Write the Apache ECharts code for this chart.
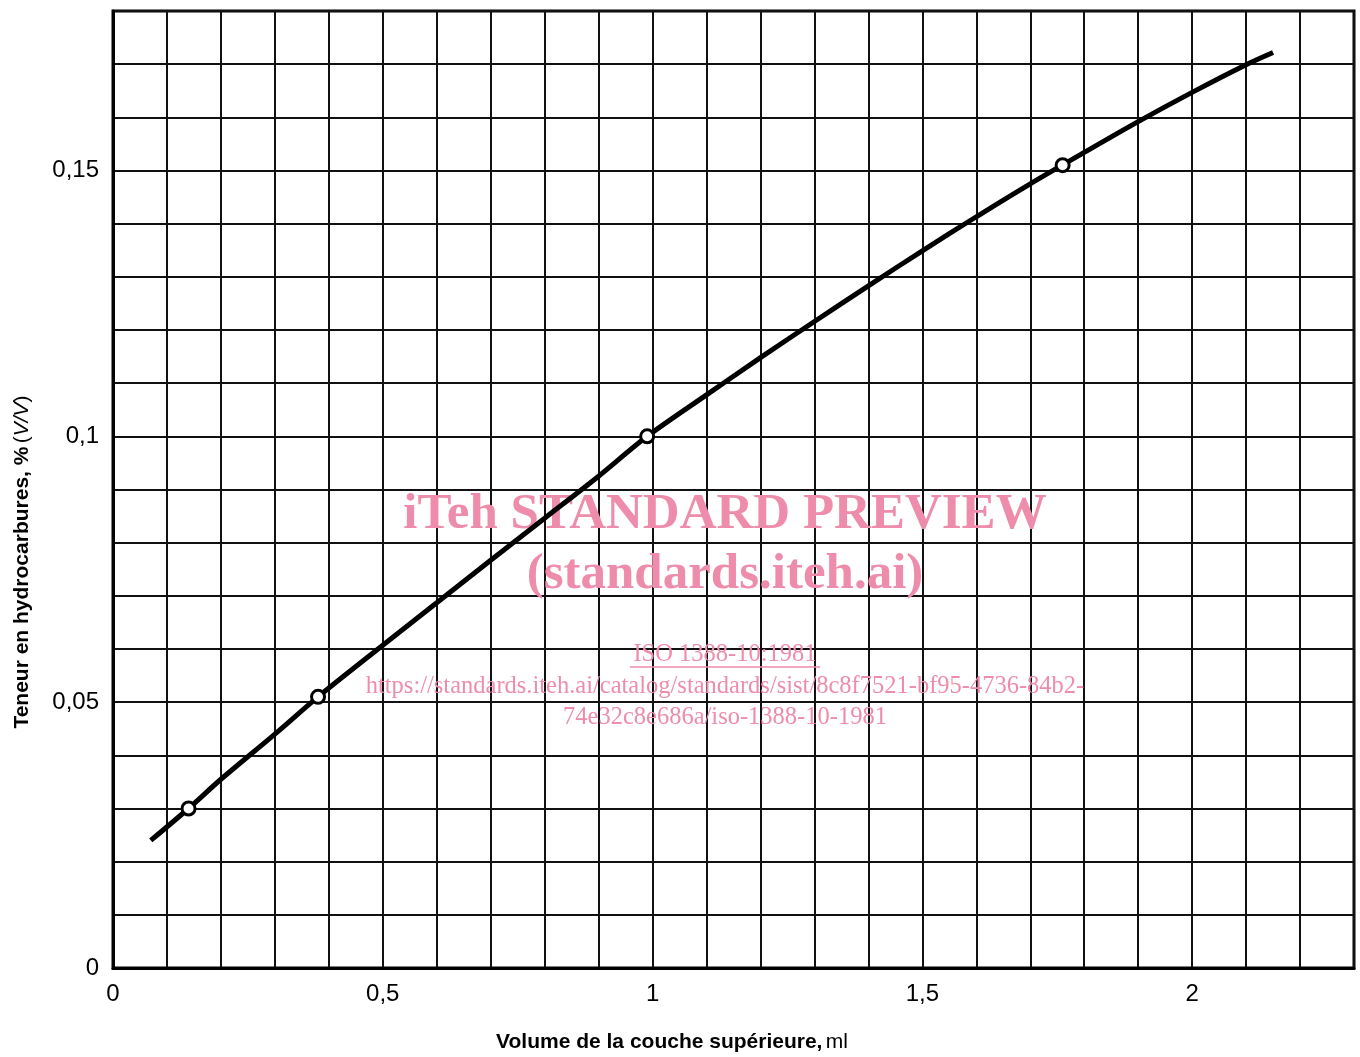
<!DOCTYPE html>
<html>
<head>
<meta charset="utf-8">
<script src="https://cdn.jsdelivr.net/npm/echarts@6/dist/echarts.min.js"></script>
<style>
  html, body { margin: 0; padding: 0; background: #fff; }
  #chart { width: 1360px; height: 1057px; }
</style>
</head>
<body>
<div id="chart"></div>
<script>
    // courbe
    var curveX = [0.07, 0.14, 0.2, 0.3, 0.38, 0.5, 0.6, 0.7, 0.8, 0.9, 0.99, 1.1, 1.2, 1.3, 1.4, 1.5, 1.6, 1.7, 1.8, 1.9, 2.0, 2.1, 2.15]
    var curveY = [0.024, 0.030, 0.0355, 0.044, 0.051, 0.0607, 0.0687, 0.0767, 0.0846, 0.0925, 0.100, 0.1078, 0.1148, 0.1216, 0.1283, 0.1349, 0.1413, 0.1475, 0.1534, 0.1592, 0.1647, 0.1699, 0.1722]
    // points mesures (cercles)
    var pointX = [0.14, 0.38, 0.99, 1.76]
    var pointY = [0.030, 0.051, 0.100, 0.151]
    // graduations
    var xTicks = [0, 0.5, 1, 1.5, 2]
    var yTicks = [0, 0.05, 0.1, 0.15]

    var xName = 'Volume de la couche supérieure,'
    var xUnit = 'ml'
    var yName = 'Teneur en hydrocarbures, %'
    var yUnit = 'V/V'
    var watermark = [
        'iTeh STANDARD PREVIEW',
        '(standards.iteh.ai)',
        'ISO 1388-10:1981',
        'https://standards.iteh.ai/catalog/standards/sist/8c8f7521-bf95-4736-84b2-',
        '74e32c8e686a/iso-1388-10-1981'
    ]

    function zip(xs, ys) {
        var out = []
        for (var i = 0; i < xs.length; i++) {
            out.push([xs[i], ys[i]])
        }
        return out
    }

    function tickLabel(list) {
        return function (value) {
            for (var i = 0; i < list.length; i++) {
                if (Math.abs(value - list[i]) < 1e-6) {
                    return String(list[i]).replace('.', ',')
                }
            }
            return ''
        }
    }

    function setAxis(min, max, interval, ticks) {
        return {
            type: 'value',
            min: min,
            max: max,
            interval: interval,
            axisLine: { show: true, lineStyle: { color: '#000', width: 3 } },
            axisTick: { show: false },
            splitLine: { show: true, lineStyle: { color: '#111', width: 2 } },
            axisLabel: {
                color: '#000',
                fontFamily: 'Liberation Sans',
                fontSize: 24,
                margin: 14,
                formatter: tickLabel(ticks)
            }
        }
    }

    var pink = '#ee8dab'
    var serif = 'Liberation Serif'

    function mark(text, y, font) {
        return {
            type: 'text', silent: true, z: 1,
            x: 725, y: y,
            style: { text: text, fill: pink, font: font, align: 'center', verticalAlign: 'middle' }
        }
    }

    var option = {
        animation: false,
        backgroundColor: '#fff',
        grid: {
            left: 113,
            right: 6,
            top: 11,
            bottom: 89,
            show: true,
            borderColor: '#000',
            borderWidth: 3
        },
        xAxis: setAxis(0, 2.3, 0.1, xTicks),
        yAxis: setAxis(0, 0.18, 0.01, yTicks),
        graphic: [
            mark(watermark[0], 515, 'bold 51px ' + serif),
            mark(watermark[1], 575, 'bold 51px ' + serif),
            mark(watermark[2], 655, '24.5px ' + serif),
            {
                type: 'line', silent: true, z: 1,
                shape: { x1: 630, y1: 667, x2: 820, y2: 667 },
                style: { stroke: pink, lineWidth: 1.5 }
            },
            mark(watermark[3], 687, '24.5px ' + serif),
            mark(watermark[4], 718, '24.5px ' + serif),
            {
                // titre de l'axe des abscisses
                type: 'text', silent: true,
                x: 672, y: 1042,
                style: {
                    text: '{b|' + xName + '} {n|' + xUnit + '}',
                    align: 'center', verticalAlign: 'middle',
                    rich: {
                        b: { fontFamily: 'Liberation Sans', fontWeight: 'bold', fontSize: 21, fill: '#000' },
                        n: { fontFamily: 'Liberation Sans', fontSize: 21, fill: '#000' }
                    }
                }
            },
            {
                // titre de l'axe des ordonnees
                type: 'text', silent: true,
                x: 22, y: 562, rotation: Math.PI / 2,
                style: {
                    text: '{b|' + yName + '} {n|(}{i|' + yUnit + '}{n|)}',
                    align: 'center', verticalAlign: 'middle',
                    rich: {
                        b: { fontFamily: 'Liberation Sans', fontWeight: 'bold', fontSize: 21, fill: '#000' },
                        n: { fontFamily: 'Liberation Sans', fontSize: 21, fill: '#000' },
                        i: { fontFamily: 'Liberation Sans', fontStyle: 'italic', fontSize: 21, fill: '#000' }
                    }
                }
            }
        ],
        series: [
            {
                type: 'line',
                data: zip(curveX, curveY),
                smooth: 0.3,
                showSymbol: false,
                z: 3,
                lineStyle: { color: '#000', width: 5 }
            },
            {
                type: 'scatter',
                data: zip(pointX, pointY),
                symbol: 'circle',
                symbolSize: 13,
                z: 4,
                itemStyle: { color: '#fff', borderColor: '#000', borderWidth: 3, opacity: 1 }
            }
        ]
    }

    echarts.init(document.getElementById('chart')).setOption(option)
</script>
</body>
</html>
